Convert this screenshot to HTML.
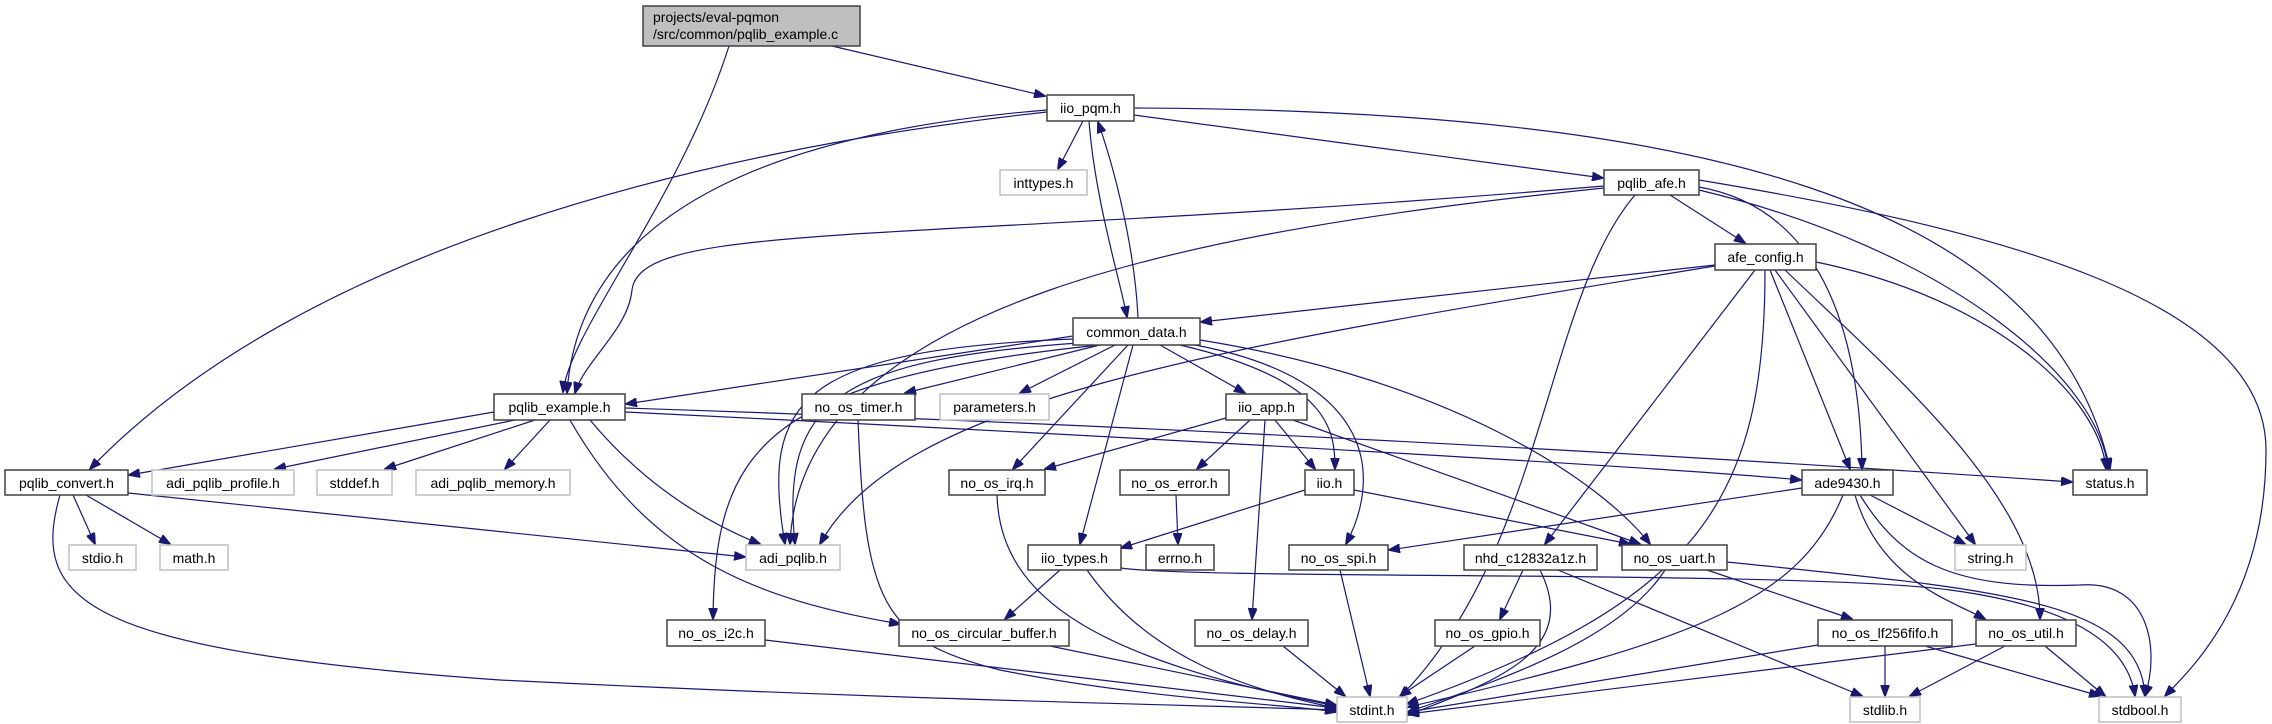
<!DOCTYPE html>
<html><head><meta charset="utf-8"><style>
html,body{margin:0;padding:0;background:#fff;}
svg{display:block;}
text{font-family:"Liberation Sans","DejaVu Sans",sans-serif;font-size:14px;fill:#000;}
.n{fill:#fff;stroke:#404040;stroke-width:1.5;}
.g{fill:#fff;stroke:#bfbfbf;stroke-width:1.5;}
.e{fill:none;stroke:#191970;stroke-width:1.2;}
</style></head><body>
<svg width="2272" height="724" viewBox="0 0 2272 724" xmlns="http://www.w3.org/2000/svg">
<defs><marker id="a" markerWidth="12" markerHeight="9" refX="11" refY="4.5" orient="auto" markerUnits="userSpaceOnUse"><path d="M0,0 L12,4.5 L0,9 z" fill="#191970" stroke="#191970"/></marker></defs>
<g marker-end="url(#a)">
<path class="e" d="M832,46 L1045,96"/>
<path class="e" d="M729,46 C680,200 570,330 563,392"/>
<path class="e" d="M1083,121 L1058,169"/>
<path class="e" d="M1134,115 L1603,178"/>
<path class="e" d="M1089,121 C1095,200 1120,280 1127,317"/>
<path class="e" d="M1138,318 C1135,250 1115,170 1098,122"/>
<path class="e" d="M1047,110 C800,130 580,200 567,393"/>
<path class="e" d="M1047,112 C700,150 300,250 90,469"/>
<path class="e" d="M1134,108 C1700,110 2050,200 2110,469"/>
<path class="e" d="M1670,195 L1745,243"/>
<path class="e" d="M1604,186 C900,245 640,220 632,290 C628,330 585,360 575,393"/>
<path class="e" d="M1604,188 C1200,230 800,300 790,544"/>
<path class="e" d="M1635,195 C1545,300 1545,550 1400,697"/>
<path class="e" d="M1699,187 C1830,210 1860,350 1862,469"/>
<path class="e" d="M1699,190 C1950,250 2100,380 2108,469"/>
<path class="e" d="M1699,180 C2000,230 2266,300 2266,450 C2266,600 2190,670 2165,696"/>
<path class="e" d="M1715,265 L1201,322"/>
<path class="e" d="M1715,266 C1200,350 900,400 820,544"/>
<path class="e" d="M1755,270 L1545,544"/>
<path class="e" d="M1765,270 C1765,500 1700,600 1407,704"/>
<path class="e" d="M1770,270 L1850,469"/>
<path class="e" d="M1775,270 L1975,544"/>
<path class="e" d="M1785,270 C1900,380 2040,500 2040,619"/>
<path class="e" d="M1816,262 C2000,300 2100,400 2106,469"/>
<path class="e" d="M1073,336 L626,404"/>
<path class="e" d="M1100,345 L905,393"/>
<path class="e" d="M1115,345 L1020,393"/>
<path class="e" d="M1160,345 L1245,393"/>
<path class="e" d="M1128,345 L1013,469"/>
<path class="e" d="M1133,345 L1080,544"/>
<path class="e" d="M1180,345 C1330,380 1335,430 1335,469"/>
<path class="e" d="M1195,345 C1380,380 1380,480 1346,544"/>
<path class="e" d="M1200,340 C1450,380 1600,480 1650,544"/>
<path class="e" d="M1073,339 C800,350 760,400 785,544"/>
<path class="e" d="M1078,343 C840,360 780,400 795,544"/>
<path class="e" d="M1100,345 C760,380 715,450 713,619"/>
<path class="e" d="M494,412 L129,475"/>
<path class="e" d="M515,420 L275,469"/>
<path class="e" d="M535,420 L385,469"/>
<path class="e" d="M550,420 L505,469"/>
<path class="e" d="M590,420 C640,480 700,520 760,544"/>
<path class="e" d="M570,420 C650,560 760,600 900,624"/>
<path class="e" d="M625,412 C1200,440 1700,470 1801,480"/>
<path class="e" d="M625,408 C1300,430 1900,470 2072,482"/>
<path class="e" d="M73,495 L95,544"/>
<path class="e" d="M86,495 L170,544"/>
<path class="e" d="M128,493 L745,557"/>
<path class="e" d="M60,495 C30,600 80,650 500,680 C900,700 1200,705 1336,710"/>
<path class="e" d="M858,420 C865,600 880,640 1000,670 C1150,700 1300,705 1336,712"/>
<path class="e" d="M1226,418 L1045,469"/>
<path class="e" d="M1250,420 L1197,469"/>
<path class="e" d="M1275,420 L1315,469"/>
<path class="e" d="M1265,420 L1252,619"/>
<path class="e" d="M1293,420 L1640,544"/>
<path class="e" d="M997,495 C1000,600 1100,660 1336,706"/>
<path class="e" d="M1176,495 L1178,544"/>
<path class="e" d="M1305,490 L1121,548"/>
<path class="e" d="M1354,490 L1630,544"/>
<path class="e" d="M1060,570 L1005,619"/>
<path class="e" d="M1087,570 C1150,660 1250,690 1336,708"/>
<path class="e" d="M1121,568 C1200,580 1800,570 1950,590 C2100,610 2130,660 2135,696"/>
<path class="e" d="M1340,570 L1370,696"/>
<path class="e" d="M1802,488 L1389,550"/>
<path class="e" d="M1870,495 L1965,544"/>
<path class="e" d="M1843,495 C1800,600 1700,640 1408,707"/>
<path class="e" d="M1855,495 C1880,580 1950,600 1985,619"/>
<path class="e" d="M1860,495 C1900,560 1950,590 2080,585 C2150,580 2160,650 2145,696"/>
<path class="e" d="M1523,570 L1500,619"/>
<path class="e" d="M1540,570 C1580,650 1500,680 1408,715"/>
<path class="e" d="M1558,570 L1862,696"/>
<path class="e" d="M1665,570 C1620,640 1500,680 1408,712"/>
<path class="e" d="M1707,570 L1852,619"/>
<path class="e" d="M1727,562 C2000,590 2140,600 2145,696"/>
<path class="e" d="M1050,646 L1336,705"/>
<path class="e" d="M1283,646 L1345,696"/>
<path class="e" d="M1475,646 L1400,696"/>
<path class="e" d="M765,640 L1336,708"/>
<path class="e" d="M1818,645 L1408,712"/>
<path class="e" d="M1885,646 L1885,696"/>
<path class="e" d="M1925,646 L2100,696"/>
<path class="e" d="M1976,644 L1408,714"/>
<path class="e" d="M2005,646 L1910,696"/>
<path class="e" d="M2045,646 L2105,696"/>
</g>
<rect x="643" y="6" width="217" height="40" fill="#bfbfbf" stroke="#404040" stroke-width="1.5"/>
<text x="653" y="22">projects/eval-pqmon</text>
<text x="653" y="39">/src/common/pqlib_example.c</text>
<g>
<rect class="n" x="1047" y="95" width="87" height="26"/><text x="1090.5" y="113" text-anchor="middle">iio_pqm.h</text>
<rect class="g" x="1000" y="170" width="87" height="25"/><text x="1043.5" y="188" text-anchor="middle">inttypes.h</text>
<rect class="n" x="1604" y="170" width="95" height="25"/><text x="1651.5" y="188" text-anchor="middle">pqlib_afe.h</text>
<rect class="n" x="1715" y="244" width="101" height="26"/><text x="1765.5" y="262" text-anchor="middle">afe_config.h</text>
<rect class="n" x="1073" y="318" width="127" height="27"/><text x="1136.5" y="337" text-anchor="middle">common_data.h</text>
<rect class="n" x="494" y="394" width="131" height="26"/><text x="559.5" y="412" text-anchor="middle">pqlib_example.h</text>
<rect class="n" x="802" y="394" width="113" height="26"/><text x="858.5" y="412" text-anchor="middle">no_os_timer.h</text>
<rect class="g" x="940" y="394" width="109" height="26"/><text x="994.5" y="412" text-anchor="middle">parameters.h</text>
<rect class="n" x="1226" y="394" width="81" height="26"/><text x="1266.5" y="412" text-anchor="middle">iio_app.h</text>
<rect class="n" x="5" y="470" width="123" height="25"/><text x="66.5" y="488" text-anchor="middle">pqlib_convert.h</text>
<rect class="g" x="152" y="470" width="142" height="25"/><text x="223" y="488" text-anchor="middle">adi_pqlib_profile.h</text>
<rect class="g" x="317" y="470" width="75" height="25"/><text x="354.5" y="488" text-anchor="middle">stddef.h</text>
<rect class="g" x="416" y="470" width="154" height="25"/><text x="493" y="488" text-anchor="middle">adi_pqlib_memory.h</text>
<rect class="n" x="949" y="470" width="96" height="25"/><text x="997" y="488" text-anchor="middle">no_os_irq.h</text>
<rect class="n" x="1120" y="470" width="109" height="25"/><text x="1174.5" y="488" text-anchor="middle">no_os_error.h</text>
<rect class="n" x="1305" y="470" width="49" height="25"/><text x="1329.5" y="488" text-anchor="middle">iio.h</text>
<rect class="n" x="1802" y="470" width="91" height="25"/><text x="1847.5" y="488" text-anchor="middle">ade9430.h</text>
<rect class="n" x="2073" y="470" width="74" height="25"/><text x="2110" y="488" text-anchor="middle">status.h</text>
<rect class="g" x="69" y="545" width="67" height="25"/><text x="102.5" y="563" text-anchor="middle">stdio.h</text>
<rect class="g" x="160" y="545" width="68" height="25"/><text x="194" y="563" text-anchor="middle">math.h</text>
<rect class="g" x="746" y="545" width="94" height="25"/><text x="793" y="563" text-anchor="middle">adi_pqlib.h</text>
<rect class="n" x="1028" y="545" width="93" height="25"/><text x="1074.5" y="563" text-anchor="middle">iio_types.h</text>
<rect class="n" x="1146" y="545" width="68" height="25"/><text x="1180" y="563" text-anchor="middle">errno.h</text>
<rect class="n" x="1289" y="545" width="99" height="25"/><text x="1338.5" y="563" text-anchor="middle">no_os_spi.h</text>
<rect class="n" x="1464" y="545" width="133" height="25"/><text x="1530.5" y="563" text-anchor="middle">nhd_c12832a1z.h</text>
<rect class="n" x="1622" y="545" width="105" height="25"/><text x="1674.5" y="563" text-anchor="middle">no_os_uart.h</text>
<rect class="g" x="1955" y="545" width="71" height="25"/><text x="1990.5" y="563" text-anchor="middle">string.h</text>
<rect class="n" x="667" y="620" width="98" height="26"/><text x="716" y="638" text-anchor="middle">no_os_i2c.h</text>
<rect class="n" x="899" y="620" width="170" height="26"/><text x="984" y="638" text-anchor="middle">no_os_circular_buffer.h</text>
<rect class="n" x="1195" y="620" width="113" height="26"/><text x="1251.5" y="638" text-anchor="middle">no_os_delay.h</text>
<rect class="n" x="1435" y="620" width="105" height="26"/><text x="1487.5" y="638" text-anchor="middle">no_os_gpio.h</text>
<rect class="n" x="1818" y="620" width="134" height="26"/><text x="1885" y="638" text-anchor="middle">no_os_lf256fifo.h</text>
<rect class="n" x="1976" y="620" width="100" height="26"/><text x="2026" y="638" text-anchor="middle">no_os_util.h</text>
<rect class="g" x="1337" y="697" width="70" height="25"/><text x="1372" y="715" text-anchor="middle">stdint.h</text>
<rect class="g" x="1850" y="697" width="70" height="25"/><text x="1885" y="715" text-anchor="middle">stdlib.h</text>
<rect class="g" x="2099" y="697" width="82" height="25"/><text x="2140" y="715" text-anchor="middle">stdbool.h</text>
</g>
</svg>
</body></html>
